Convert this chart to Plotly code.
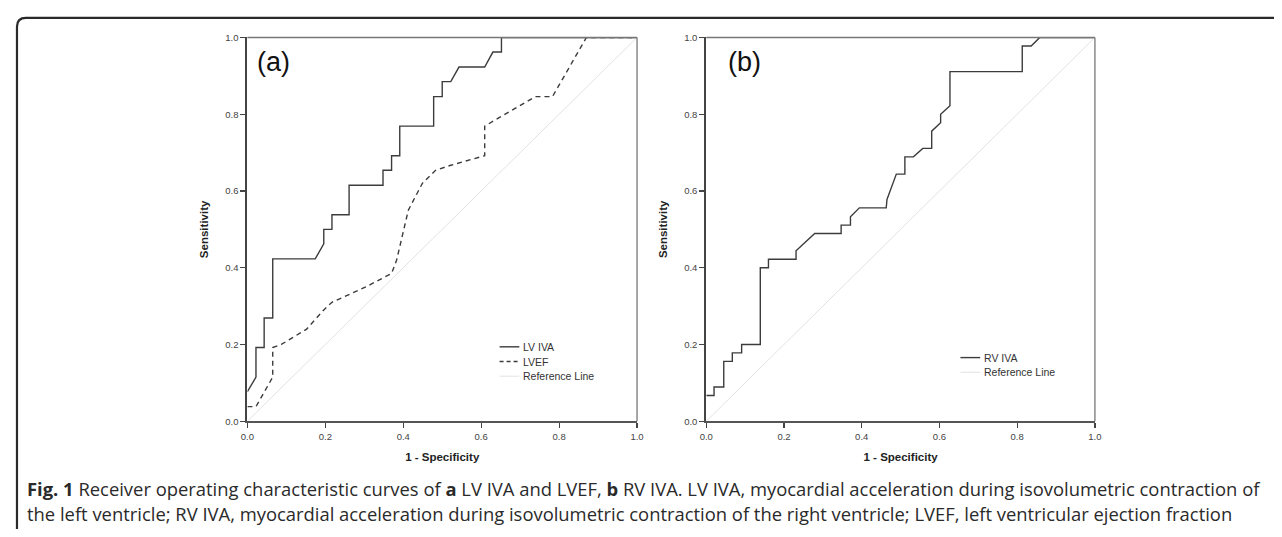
import plotly.graph_objects as go

# ---------------- data ----------------
lv_iva_fpr = [0, 0.022, 0.022, 0.043, 0.043, 0.065, 0.065, 0.174, 0.196, 0.196, 0.217, 0.217,
              0.261, 0.261, 0.348, 0.348, 0.370, 0.370, 0.391, 0.391, 0.478, 0.478, 0.500, 0.500,
              0.522, 0.543, 0.609, 0.630, 0.652, 0.652, 1.0]
lv_iva_tpr = [0.077, 0.115, 0.192, 0.192, 0.269, 0.269, 0.423, 0.423, 0.462, 0.500, 0.500, 0.538,
              0.538, 0.615, 0.615, 0.654, 0.654, 0.692, 0.692, 0.769, 0.769, 0.846, 0.846, 0.885,
              0.885, 0.923, 0.923, 0.962, 0.962, 1.0, 1.0]

lvef_fpr = [0, 0.022, 0.065, 0.065, 0.087, 0.152, 0.196, 0.217, 0.304, 0.370, 0.383, 0.413,
            0.449, 0.483, 0.522, 0.609, 0.609, 0.739, 0.783, 0.870, 1.0]
lvef_tpr = [0.038, 0.038, 0.115, 0.192, 0.200, 0.240, 0.290, 0.310, 0.350, 0.385, 0.420, 0.550,
            0.620, 0.654, 0.667, 0.692, 0.769, 0.846, 0.846, 1.0, 1.0]

rv_iva_fpr = [0, 0.020, 0.020, 0.045, 0.045, 0.067, 0.067, 0.091, 0.091, 0.139, 0.139, 0.160,
              0.160, 0.231, 0.231, 0.279, 0.347, 0.347, 0.371, 0.371, 0.394, 0.463, 0.465, 0.489,
              0.511, 0.511, 0.533, 0.557, 0.580, 0.580, 0.603, 0.603, 0.627, 0.627, 0.813, 0.813,
              0.836, 0.858, 1.0]
rv_iva_tpr = [0.067, 0.067, 0.089, 0.089, 0.156, 0.156, 0.178, 0.178, 0.200, 0.200, 0.400, 0.400,
              0.422, 0.422, 0.444, 0.489, 0.489, 0.511, 0.511, 0.533, 0.556, 0.556, 0.578, 0.644,
              0.644, 0.689, 0.689, 0.711, 0.711, 0.756, 0.778, 0.800, 0.822, 0.911, 0.911, 0.978,
              0.978, 1.0, 1.0]

ref_line = [0, 1]
tick_vals = [0, 0.2, 0.4, 0.6, 0.8, 1.0]
tick_text = ["0.0", "0.2", "0.4", "0.6", "0.8", "1.0"]

legend_a = ["LV IVA", "LVEF", "Reference Line"]
legend_b = ["RV IVA", "Reference Line"]

caption_line1 = ("<b>Fig. 1</b> Receiver operating characteristic curves of <b>a</b> LV IVA and LVEF, "
                 "<b>b</b> RV IVA. LV IVA, myocardial acceleration during isovolumetric contraction of")
caption_line2 = ("the left ventricle; RV IVA, myocardial acceleration during isovolumetric contraction "
                 "of the right ventricle; LVEF, left ventricular ejection fraction")

# ---------------- layout geometry ----------------
# The page body keeps its default 8px margin, so the figure is 16px smaller than
# the window and all positions below are given in window pixels.
OFF = 8
W, H = 1282 - 2 * OFF, 537 - 2 * OFF
def px_x(p):
    return (p - OFF) / W
def px_y(p):
    return 1 - (p - OFF) / H

top, bottom = 32, 424
left_dom = [px_x(243), px_x(637)]
right_dom = [px_x(707), px_x(1100)]
y_dom = [px_y(bottom), px_y(top)]

LINE = "#3c3c3c"
REF = "#e2e2e2"
SOLID = dict(color=LINE, width=1.4)
DASHED = dict(color=LINE, width=1.4, dash="5px,4px")
REFL = dict(color=REF, width=1)

fig = go.Figure()

fig.add_trace(go.Scatter(x=lv_iva_fpr, y=lv_iva_tpr, mode="lines", name=legend_a[0],
                         line=SOLID, xaxis="x", yaxis="y"))
fig.add_trace(go.Scatter(x=lvef_fpr, y=lvef_tpr, mode="lines", name=legend_a[1],
                         line=DASHED, xaxis="x", yaxis="y"))
fig.add_trace(go.Scatter(x=ref_line, y=ref_line, mode="lines", name=legend_a[2],
                         line=REFL, xaxis="x", yaxis="y"))

fig.add_trace(go.Scatter(x=rv_iva_fpr, y=rv_iva_tpr, mode="lines", name=legend_b[0],
                         line=SOLID, xaxis="x2", yaxis="y2"))
fig.add_trace(go.Scatter(x=ref_line, y=ref_line, mode="lines", name=legend_b[1],
                         line=REFL, xaxis="x2", yaxis="y2"))

tickfont = dict(family="Liberation Sans, Arial", size=9.5, color="#444")
titlefont = dict(family="Liberation Sans, Arial", size=11.5, color="#222", weight="bold")

def xax(domain, anchor):
    return dict(domain=domain, anchor=anchor, range=[0, 1], tickvals=tick_vals, ticktext=tick_text,
                ticks="outside", ticklen=5, tickwidth=1.2, tickcolor="#444", showgrid=False,
                zeroline=False, showline=True, linecolor="#555", linewidth=2,
                tickfont=tickfont, title=dict(text="1 - Specificity", font=titlefont, standoff=12),
                fixedrange=True)

def yax(anchor):
    return dict(domain=y_dom, anchor=anchor, range=[0, 1], tickvals=tick_vals, ticktext=tick_text,
                ticks="outside", ticklen=5, tickwidth=1.2, tickcolor="#444", showgrid=False,
                zeroline=False, showline=True, linecolor="#444", linewidth=2,
                tickfont=tickfont, title=dict(text="Sensitivity", font=titlefont, standoff=14),
                fixedrange=True)

fig.update_layout(
    width=W, height=H,
    margin=dict(l=0, r=0, t=0, b=0),
    paper_bgcolor="white", plot_bgcolor="white",
    xaxis=xax(left_dom, "y"),
    yaxis=yax("x"),
    xaxis2=xax(right_dom, "y2"),
    yaxis2=yax("x2"),
    showlegend=False,
    hovermode=False,
)

# top and right frame lines of each panel (thin grey)
for xr, yr in (("x domain", "y domain"), ("x2 domain", "y2 domain")):
    fig.add_shape(type="line", xref=xr, yref=yr, x0=0, x1=1, y0=1, y1=1,
                  line=dict(color="#777", width=1.3))
    fig.add_shape(type="line", xref=xr, yref=yr, x0=1, x1=1, y0=0, y1=1,
                  line=dict(color="#777", width=1.3))

# panel labels
labfont = dict(family="Liberation Sans, Arial", size=27, color="#111")
fig.add_annotation(text="(a)", xref="paper", yref="paper", x=px_x(251), y=px_y(57),
                   xanchor="left", yanchor="middle", showarrow=False, font=labfont)
fig.add_annotation(text="(b)", xref="paper", yref="paper", x=px_x(727), y=px_y(57),
                   xanchor="left", yanchor="middle", showarrow=False, font=labfont)

# compact legends (SPSS style)
legfont = dict(family="Liberation Sans, Arial", size=10.5, color="#333")
def add_legend(labels, styles, x0px, x1px, rows_px):
    for lab, sty, ypx in zip(labels, styles, rows_px):
        fig.add_shape(type="line", xref="paper", yref="paper", x0=px_x(x0px), x1=px_x(x1px),
                      y0=px_y(ypx), y1=px_y(ypx), line=sty)
        fig.add_annotation(text=lab, xref="paper", yref="paper", x=px_x(x1px + 2), y=px_y(ypx),
                           xanchor="left", yanchor="middle", showarrow=False, font=legfont)

add_legend(legend_a, [SOLID, dict(color=LINE, width=1.4, dash="4px,3px"), REFL], 498, 518,
           [348, 363, 378])
add_legend(legend_b, [SOLID, REFL], 964, 984, [359, 374])

# outer rounded border (top-left corner visible)
r = 9
x0, y0 = 10, 12
path = (f"M {px_x(x0)},{px_y(560)} L {px_x(x0)},{px_y(y0 + r)} "
        f"Q {px_x(x0)},{px_y(y0)} {px_x(x0 + r)},{px_y(y0)} L {px_x(1300)},{px_y(y0)}")
fig.add_shape(type="path", xref="paper", yref="paper", path=path,
              line=dict(color="#2a2a2a", width=2.2))

# caption
capfont = dict(family="Open Sans, Liberation Sans", size=18.4, color="#2a2a2a")
fig.add_annotation(text=caption_line1, xref="paper", yref="paper", x=px_x(18), y=px_y(493),
                   xanchor="left", yanchor="middle", showarrow=False, font=capfont, align="left")
fig.add_annotation(text=caption_line2, xref="paper", yref="paper", x=px_x(18), y=px_y(518),
                   xanchor="left", yanchor="middle", showarrow=False, font=capfont, align="left")

fig.write_html("out.html", config={"displayModeBar": False, "staticPlot": True})
